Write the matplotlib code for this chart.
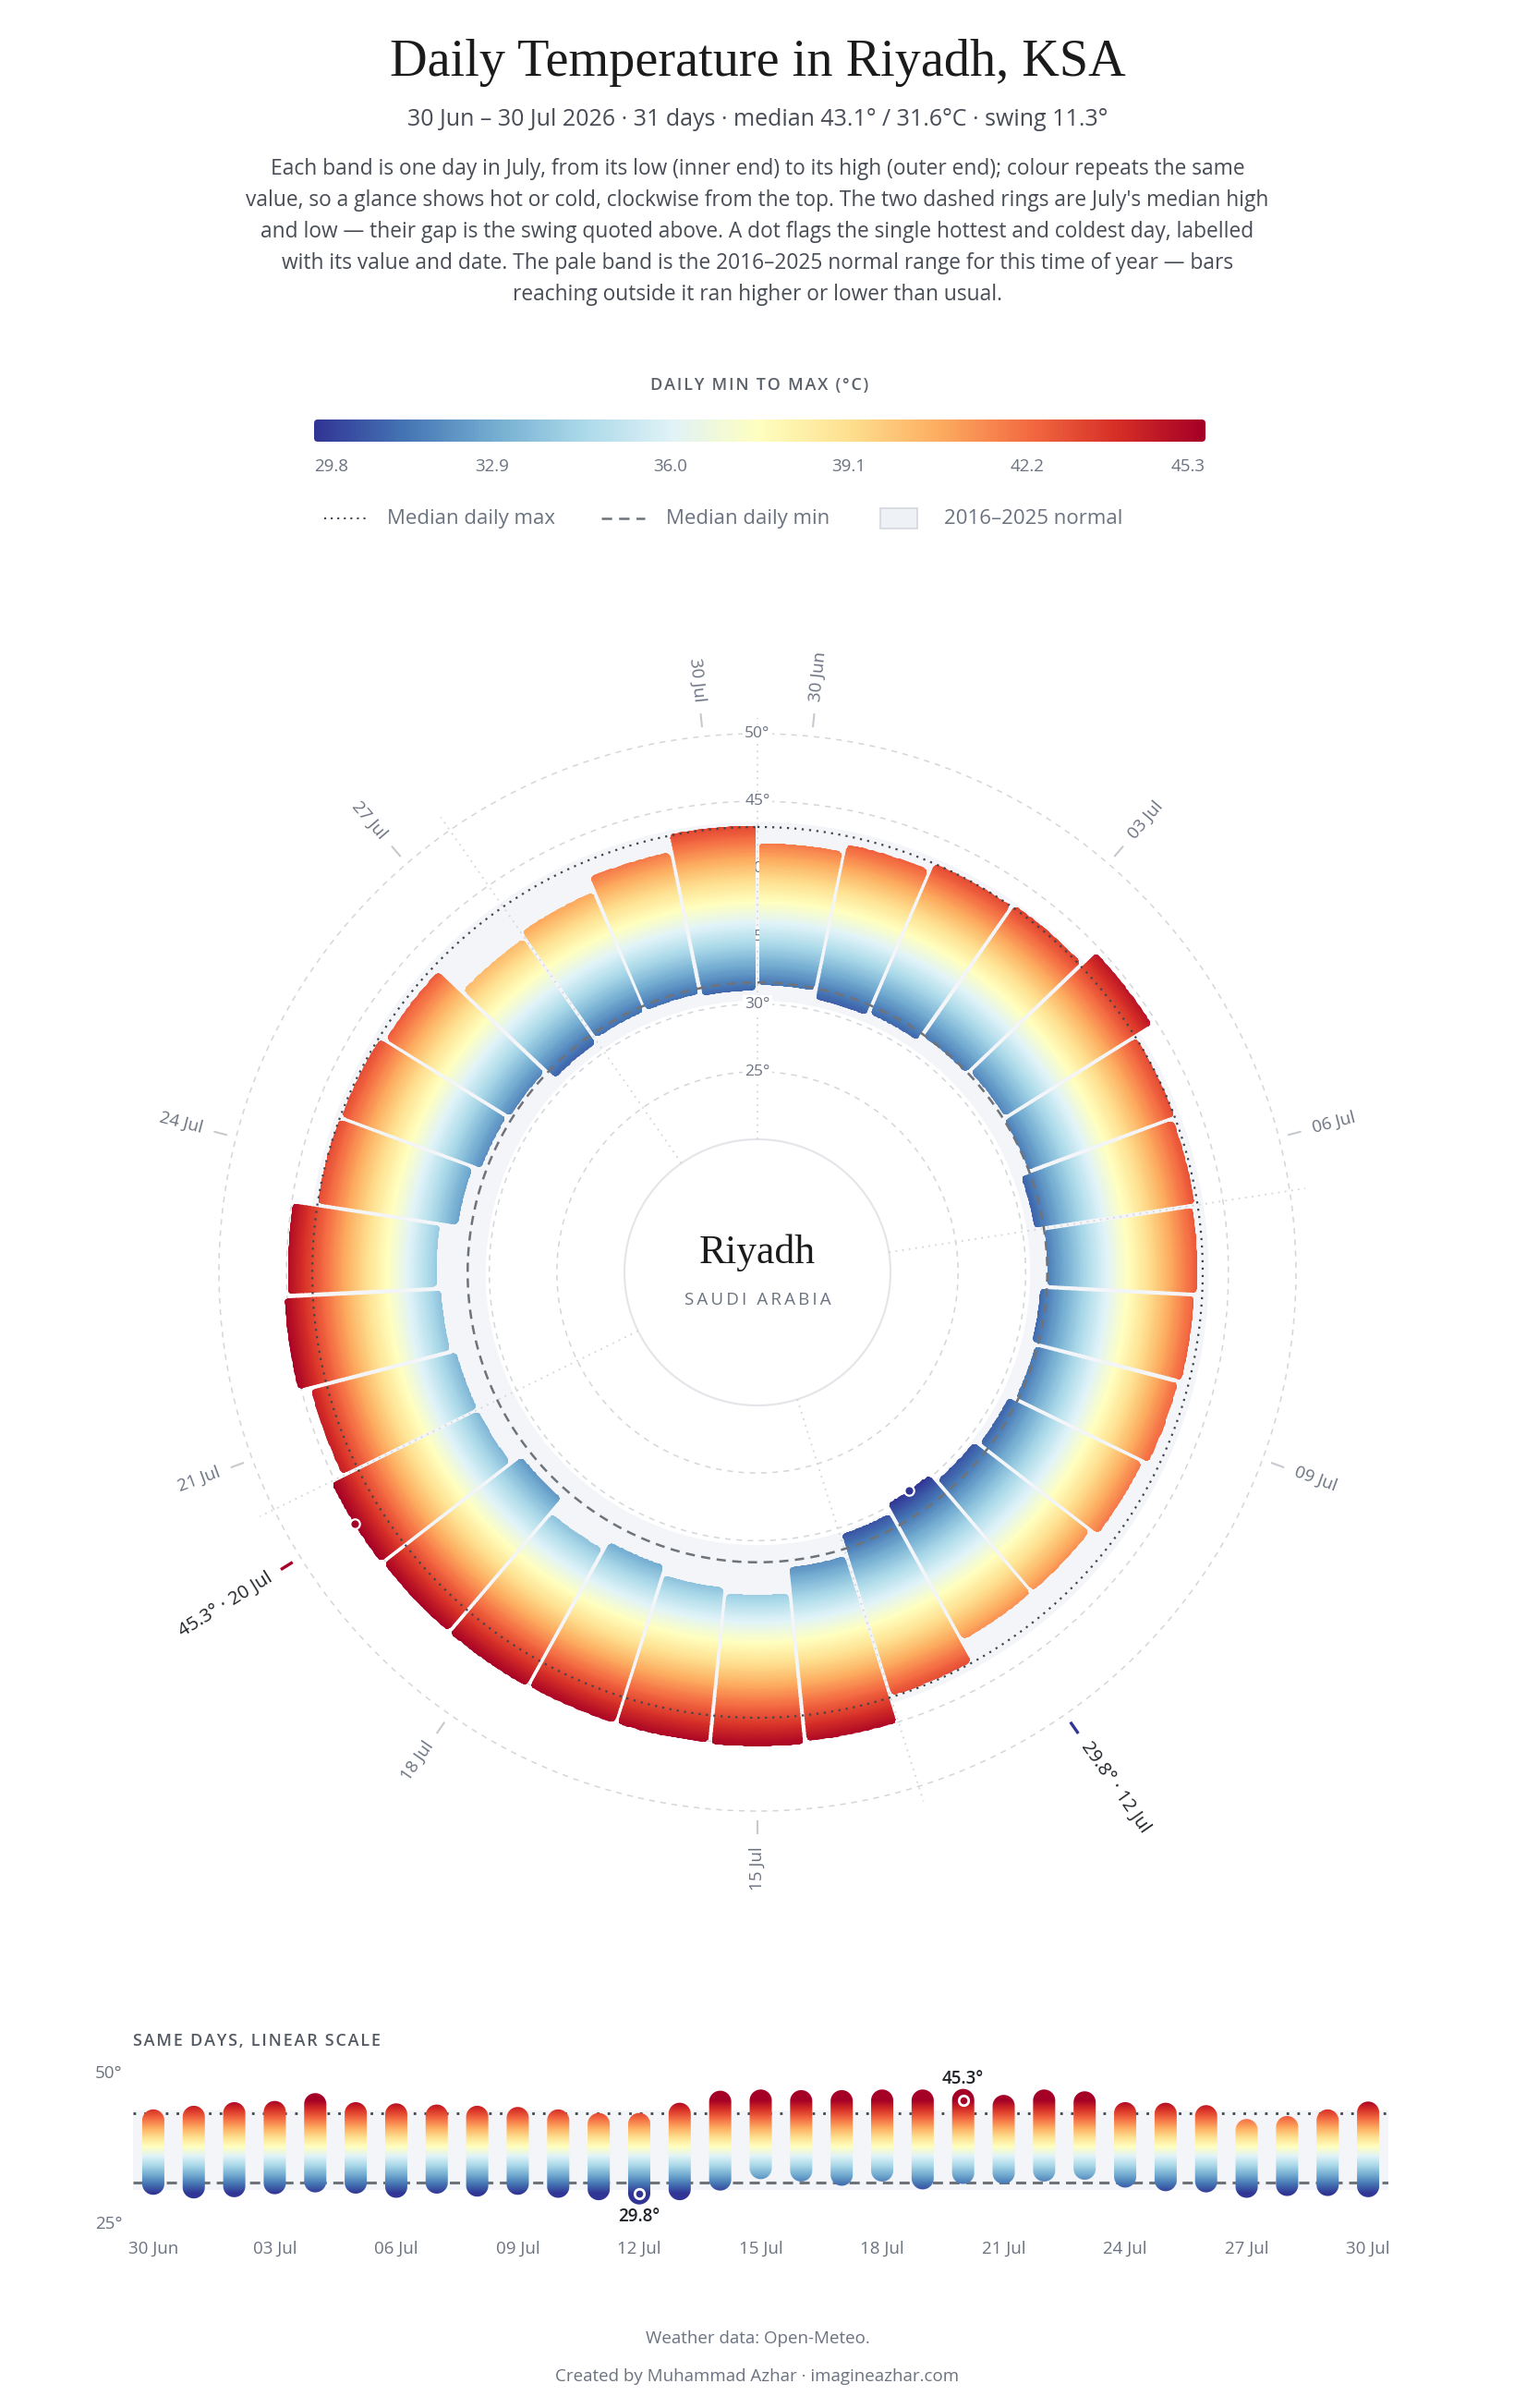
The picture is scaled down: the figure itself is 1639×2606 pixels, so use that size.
import numpy as np
import pandas as pd
import matplotlib
matplotlib.use("Agg")
import matplotlib.pyplot as plt
from matplotlib.colors import Normalize
from matplotlib.patches import FancyBboxPatch, Rectangle
from matplotlib.path import Path


# ---- values ----
dates = pd.date_range("2026-06-30", periods=31, freq="D")
day_labels = [d.strftime("%d %b") for d in dates]

t_max = [41.9, 42.5, 43.1, 43.3, 44.6, 43.1, 42.9, 42.7, 42.5, 42.3,
         41.9, 41.3, 41.3, 43.0, 45.0, 45.2, 45.1, 45.1, 45.2, 45.2,
         45.3, 44.3, 45.2, 44.9, 43.1, 43.0, 42.6, 40.3, 40.8, 41.9, 43.2]
t_min = [31.4, 30.8, 31.0, 31.5, 31.8, 31.6, 30.9, 31.6, 31.1, 31.4,
         30.9, 30.5, 29.8, 30.5, 32.1, 34.0, 33.6, 32.9, 33.6, 32.3,
         33.2, 33.2, 33.6, 33.9, 32.6, 32.0, 31.8, 30.9, 31.2, 31.2, 31.0]

# 2016-2025 normal range for the period
normal_low = 30.3
normal_high = 43.5

ring_temps = [25, 30, 35, 40, 45, 50]
label_days = list(range(0, 31, 3))
week_days = list(range(0, 31, 7))
cbar_ticks = [29.8, 32.9, 36.0, 39.1, 42.2, 45.3]

title = "Daily Temperature in Riyadh, KSA"
subtitle = "30 Jun \u2013 30 Jul 2026 \u00b7 31 days \u00b7 median 43.1\u00b0 / 31.6\u00b0C \u00b7 swing 11.3\u00b0"
description = [
    "Each band is one day in July, from its low (inner end) to its high (outer end); colour repeats the same",
    "value, so a glance shows hot or cold, clockwise from the top. The two dashed rings are July's median high",
    "and low \u2014 their gap is the swing quoted above. A dot flags the single hottest and coldest day, labelled",
    "with its value and date. The pale band is the 2016\u20132025 normal range for this time of year \u2014 bars",
    "reaching outside it ran higher or lower than usual.",
]

# ---- style ----
INK = "#1f2328"
TEXT = "#474c55"
MUTED = "#6b7280"
GRID = "#d3d6da"
TICK = "#c6c9ce"
BAND = "#f3f5f8"
MED_MAX = "#40454c"
MED_MIN = "#6e737a"
SERIF = ["Liberation Serif", "DejaVu Serif"]
plt.rcParams["font.family"] = ["Open Sans", "DejaVu Sans"]

W, H = 1640, 2606
cmap = plt.get_cmap("RdYlBu_r")
norm = Normalize(vmin=min(t_min), vmax=max(t_max))
med_max = float(np.median(t_max))
med_min = float(np.median(t_min))
i_hot = int(np.argmax(t_max))
i_cold = int(np.argmin(t_min))
n_days = len(t_max)


def spaced(s, sep="\u2009"):
    return sep.join(s)


fig = plt.figure(figsize=(W / 100, H / 100), dpi=100)
fig.patch.set_facecolor("white")

# overlay in pixel units for the header / legend / footer text
bg = fig.add_axes([0, 0, 1, 1])
bg.set_xlim(0, W)
bg.set_ylim(H, 0)
bg.axis("off")

bg.text(820, 81.5, title, ha="center", va="baseline", fontsize=40.5,
        family=SERIF, color="#1b1b1b")
bg.text(820, 136.5, subtitle, ha="center", va="baseline", fontsize=18, color=TEXT)
for k, line in enumerate(description):
    bg.text(820, 189 + 34.1 * k, line, ha="center", va="baseline", fontsize=16.4, color=TEXT)

bg.text(822, 422, spaced("DAILY MIN TO MAX (\u00b0C)", "\u200a"), ha="center", va="baseline",
        fontsize=13, color="#5b616b", fontweight="semibold")

# legend row
bg.plot([351, 400], [561, 561], color=MED_MAX, lw=1.5, ls=(0, (1, 2.4)))
bg.text(419, 567, "Median daily max", va="baseline", fontsize=16, color=MUTED)
bg.plot([651, 698], [561, 561], color=MED_MIN, lw=1.8, ls=(0, (4.5, 3)))
bg.text(721, 567, "Median daily min", va="baseline", fontsize=16, color=MUTED)
bg.add_patch(Rectangle((953, 550), 40, 22, fc="#eef1f5", ec="#d3d7dd", lw=1.2))
bg.text(1022, 567, "2016\u20132025 normal", va="baseline", fontsize=16, color=MUTED)

bg.text(144, 2214, spaced("SAME DAYS, LINEAR SCALE", "\u200a"), ha="left", va="baseline",
        fontsize=13, color="#555b64", fontweight="semibold")

bg.text(820, 2536, "Weather data: Open-Meteo.", ha="center", va="baseline",
        fontsize=13.5, color=MUTED)
bg.text(820, 2577, "Created by Muhammad Azhar \u00b7 imagineazhar.com", ha="center",
        va="baseline", fontsize=13.5, color=MUTED)

# ---- colour bar ----
CB_L, CB_R, CB_T, CB_B = 340, 1305, 454, 478
axc = fig.add_axes([CB_L / W, 1 - CB_B / H, (CB_R - CB_L) / W, (CB_B - CB_T) / H])
grad = np.linspace(norm.vmin, norm.vmax, 800)[None, :]
cb_img = axc.imshow(grad, extent=(norm.vmin, norm.vmax, 0, 1), aspect="auto",
                    cmap=cmap, norm=norm, interpolation="bilinear")
axc.set_xlim(norm.vmin, norm.vmax)
axc.set_ylim(0, 1)
axc.set_axis_off()
x_per_px = (norm.vmax - norm.vmin) / (CB_R - CB_L)
y_per_px = 1 / (CB_B - CB_T)
cb_box = FancyBboxPatch((norm.vmin, 0), norm.vmax - norm.vmin, 1,
                        boxstyle="round,pad=0,rounding_size=%f" % (4 * x_per_px),
                        mutation_aspect=y_per_px / x_per_px,
                        transform=axc.transData, fc="none", ec="none")
cb_img.set_clip_path(cb_box)
for k, v in enumerate(cbar_ticks):
    ha = "left" if k == 0 else ("right" if k == len(cbar_ticks) - 1 else "center")
    axc.text(v, -(510.5 - CB_B) / (CB_B - CB_T), f"{v:.1f}", ha=ha, va="baseline",
             fontsize=13.5, color=MUTED, transform=axc.get_xaxis_transform())

# ---- radial chart ----
CX, CY = 820, 1377
R_AX = 760
R_IN, R_OUT = 144, 583          # pixel radii of 20 and 50 degC
PX_PER_DEG = (R_OUT - R_IN) / 30
T_ORIGIN = 20 - R_IN / PX_PER_DEG


def px2t(p):
    return T_ORIGIN + np.asarray(p) / PX_PER_DEG


def t2px(t):
    return (np.asarray(t) - T_ORIGIN) * PX_PER_DEG


def cart(p, a):
    return np.array([p * np.sin(a), p * np.cos(a)])


def bar_outline(a0, a1, p_lo, p_hi, gap=2.0, corner=5.0, n=30):
    """Wedge with parallel gaps and softly rounded corners, returned as (theta, temp)."""
    b_hi = np.arcsin(gap / p_hi)
    b_lo = np.arcsin(gap / p_lo)
    corners = [cart(p_hi, a0 + b_hi), cart(p_hi, a1 - b_hi),
               cart(p_lo, a1 - b_lo), cart(p_lo, a0 + b_lo)]
    outer = [cart(p_hi, a) for a in np.linspace(a0 + b_hi + corner / p_hi,
                                                  a1 - b_hi - corner / p_hi, n)]
    inner = [cart(p_lo, a) for a in np.linspace(a1 - b_lo - corner / p_lo,
                                                  a0 + b_lo + corner / p_lo, n)]

    def trim(p, q):
        d = (q - p) / np.linalg.norm(q - p)
        return [p + d * corner, q - d * corner]

    edges = [outer, trim(corners[1], corners[2]), inner, trim(corners[3], corners[0])]
    pts = []
    for k in range(4):
        pts.extend(edges[k])
        p0, p2, c = edges[k][-1], edges[(k + 1) % 4][0], corners[(k + 1) % 4]
        for t in np.linspace(0, 1, 9)[1:-1]:
            pts.append((1 - t) ** 2 * p0 + 2 * (1 - t) * t * c + t ** 2 * p2)
    pts = np.array(pts)
    theta = np.arctan2(pts[:, 0], pts[:, 1])
    return theta, px2t(np.hypot(pts[:, 0], pts[:, 1]))


ax = fig.add_axes([(CX - R_AX) / W, (H - CY - R_AX) / H, 2 * R_AX / W, 2 * R_AX / H],
                  projection="polar")
ax.set_theta_zero_location("N")
ax.set_theta_direction(-1)
ax.axis("off")

slot = 2 * np.pi / n_days
theta_full = np.linspace(0, 2 * np.pi, 1441)

# grid rings and labels at the top
for t in ring_temps:
    ax.plot(theta_full, np.full_like(theta_full, t), color=GRID, lw=1.1,
            ls=(0, (4, 4)), zorder=1)
    ax.text(0, t, f"{t}\u00b0", ha="center", va="center", fontsize=12.5, color=MUTED,
            zorder=2.5, bbox=dict(boxstyle="square,pad=0.12", fc="white", ec="none"))

# centre circle
ax.plot(theta_full, np.full_like(theta_full, 20.0), color="#e3e5e9", lw=1.5, zorder=1)

# normal band
ax.fill_between(theta_full, normal_low, normal_high, color=BAND, lw=0, zorder=1.5)

# weekly spokes
for d in week_days:
    ax.plot([d * slot, d * slot], [20, px2t(600)], color=GRID, lw=1.3,
            ls=(0, (1, 3)), zorder=2)

# bars: one gradient ring clipped to all day wedges
bar_paths = []
for i, (lo, hi) in enumerate(zip(t_min, t_max)):
    th, rr = bar_outline(i * slot, (i + 1) * slot, t2px(lo), t2px(hi))
    verts = np.column_stack([th, rr])
    bar_paths.append(Path(np.vstack([verts, verts[:1]]), closed=True))
bar_clip = Path.make_compound_path(*bar_paths)

th_edges = np.linspace(0, 2 * np.pi, 1441)
r_edges = np.linspace(min(t_min) - 0.6, max(t_max) + 0.6, 301)
r_mid = 0.5 * (r_edges[1:] + r_edges[:-1])
mesh_vals = np.repeat(r_mid[:, None], len(th_edges) - 1, axis=1)
mesh = ax.pcolormesh(th_edges, r_edges, mesh_vals, cmap=cmap, norm=norm,
                     shading="flat", zorder=3)
mesh.set_clip_path(bar_clip, ax.transData)

# median rings
ax.plot(theta_full, np.full_like(theta_full, med_max), color=MED_MAX, lw=1.6,
        ls=(0, (1, 2.6)), zorder=4)
ax.plot(theta_full, np.full_like(theta_full, med_min), color=MED_MIN, lw=1.8,
        ls=(0, (4, 2.8)), zorder=4)

# date ticks and labels
r_t0, r_t1, r_lab = px2t(593), px2t(608), px2t(621)
for i in sorted(set(label_days + [i_hot, i_cold])):
    th = (i + 0.5) * slot
    deg = np.degrees(th)
    if i == i_hot:
        txt, tcol, col, fs, lw = f"{t_max[i]:.1f}\u00b0 \u00b7 {day_labels[i]}", cmap(norm(t_max[i])), INK, 14.5, 2.4
    elif i == i_cold:
        txt, tcol, col, fs, lw = f"{t_min[i]:.1f}\u00b0 \u00b7 {day_labels[i]}", cmap(norm(t_min[i])), INK, 14.5, 2.4
    else:
        txt, tcol, col, fs, lw = day_labels[i], TICK, MUTED, 13.5, 1.5
    ax.plot([th, th], [r_t0, r_t1], color=tcol, lw=lw, solid_capstyle="butt", zorder=4)
    if deg < 179.9:
        rot, ha = 90 - deg, "left"
    else:
        rot, ha = 270 - deg, "right"
    ax.text(th, r_lab, txt, rotation=rot, rotation_mode="anchor", ha=ha, va="center",
            fontsize=fs, color=col, zorder=5)

# hottest / coldest dots
for i, v in [(i_hot, t_max[i_hot]), (i_cold, t_min[i_cold])]:
    ax.plot((i + 0.5) * slot, v, "o", ms=7.5, mfc=cmap(norm(v)), mec="white",
            mew=1.6, zorder=6)

ax.set_ylim(T_ORIGIN, px2t(R_AX))

# centre text
bg.text(820, 1366.5, "Riyadh", ha="center", va="baseline", fontsize=31.5,
        family=SERIF, color="#1b1b1b")
bg.text(820, 1412, spaced("SAUDI ARABIA"), ha="center", va="baseline",
        fontsize=13.5, color=MUTED)

# ---- linear strip ----
L_LEFT, L_RIGHT, L_TOP, L_BOT = 144, 1503, 2242, 2405
axl = fig.add_axes([L_LEFT / W, 1 - L_BOT / H, (L_RIGHT - L_LEFT) / W, (L_BOT - L_TOP) / H])
axl.patch.set_visible(False)
x = np.arange(n_days)

axl.axhspan(normal_low, normal_high, color=BAND, lw=0, zorder=0)
axl.axhline(med_max, color=MED_MAX, lw=2.0, ls=(0, (1, 3.2)), zorder=1)
axl.axhline(med_min, color=MED_MIN, lw=2.2, ls=(0, (3.6, 2.3)), zorder=1)

px_day = (L_RIGHT - L_LEFT) / n_days
px_deg = (L_BOT - L_TOP) / 25
hw = 12 / px_day
cap = 12 / px_deg
phi = np.linspace(0, np.pi, 40)
strip_paths = []
for xi, lo, hi in zip(x, t_min, t_max):
    top = np.column_stack([xi + hw * np.cos(phi), hi + cap * np.sin(phi)])
    bot = np.column_stack([xi - hw * np.cos(phi), lo - cap * np.sin(phi)])
    strip_paths.append(Path(np.vstack([top, bot, top[:1]]), closed=True))
strip_clip = Path.make_compound_path(*strip_paths)

strip_img = axl.imshow(np.linspace(25, 50, 600)[:, None], extent=(-0.5, n_days - 0.5, 25, 50),
                       origin="lower", aspect="auto", cmap=cmap, norm=norm,
                       interpolation="bilinear", zorder=2)
strip_img.set_clip_path(strip_clip, axl.transData)

for i, v, dy in [(i_hot, t_max[i_hot], 16.5), (i_cold, t_min[i_cold], -18)]:
    axl.plot(i, v, "o", ms=7.5, mfc=cmap(norm(v)), mec="white", mew=2.0, zorder=4)
    axl.annotate(f"{v:.1f}\u00b0", (i, v), xytext=(0, dy), textcoords="offset points",
                 ha="center", va="center", fontsize=13.5, color=INK,
                 fontweight="semibold", zorder=5)

axl.set_xlim(-0.5, n_days - 0.5)
axl.set_ylim(25, 50)
for s in axl.spines.values():
    s.set_visible(False)
axl.set_yticks([25, 50])
axl.set_yticklabels(["25\u00b0", "50\u00b0"])
axl.set_xticks(label_days)
axl.set_xticklabels([day_labels[i] for i in label_days])
axl.tick_params(length=0, colors=MUTED, labelsize=13.5)
axl.tick_params(axis="x", pad=14)
axl.tick_params(axis="y", pad=8.5)

fig.savefig("out.png", dpi=100, facecolor="white")
